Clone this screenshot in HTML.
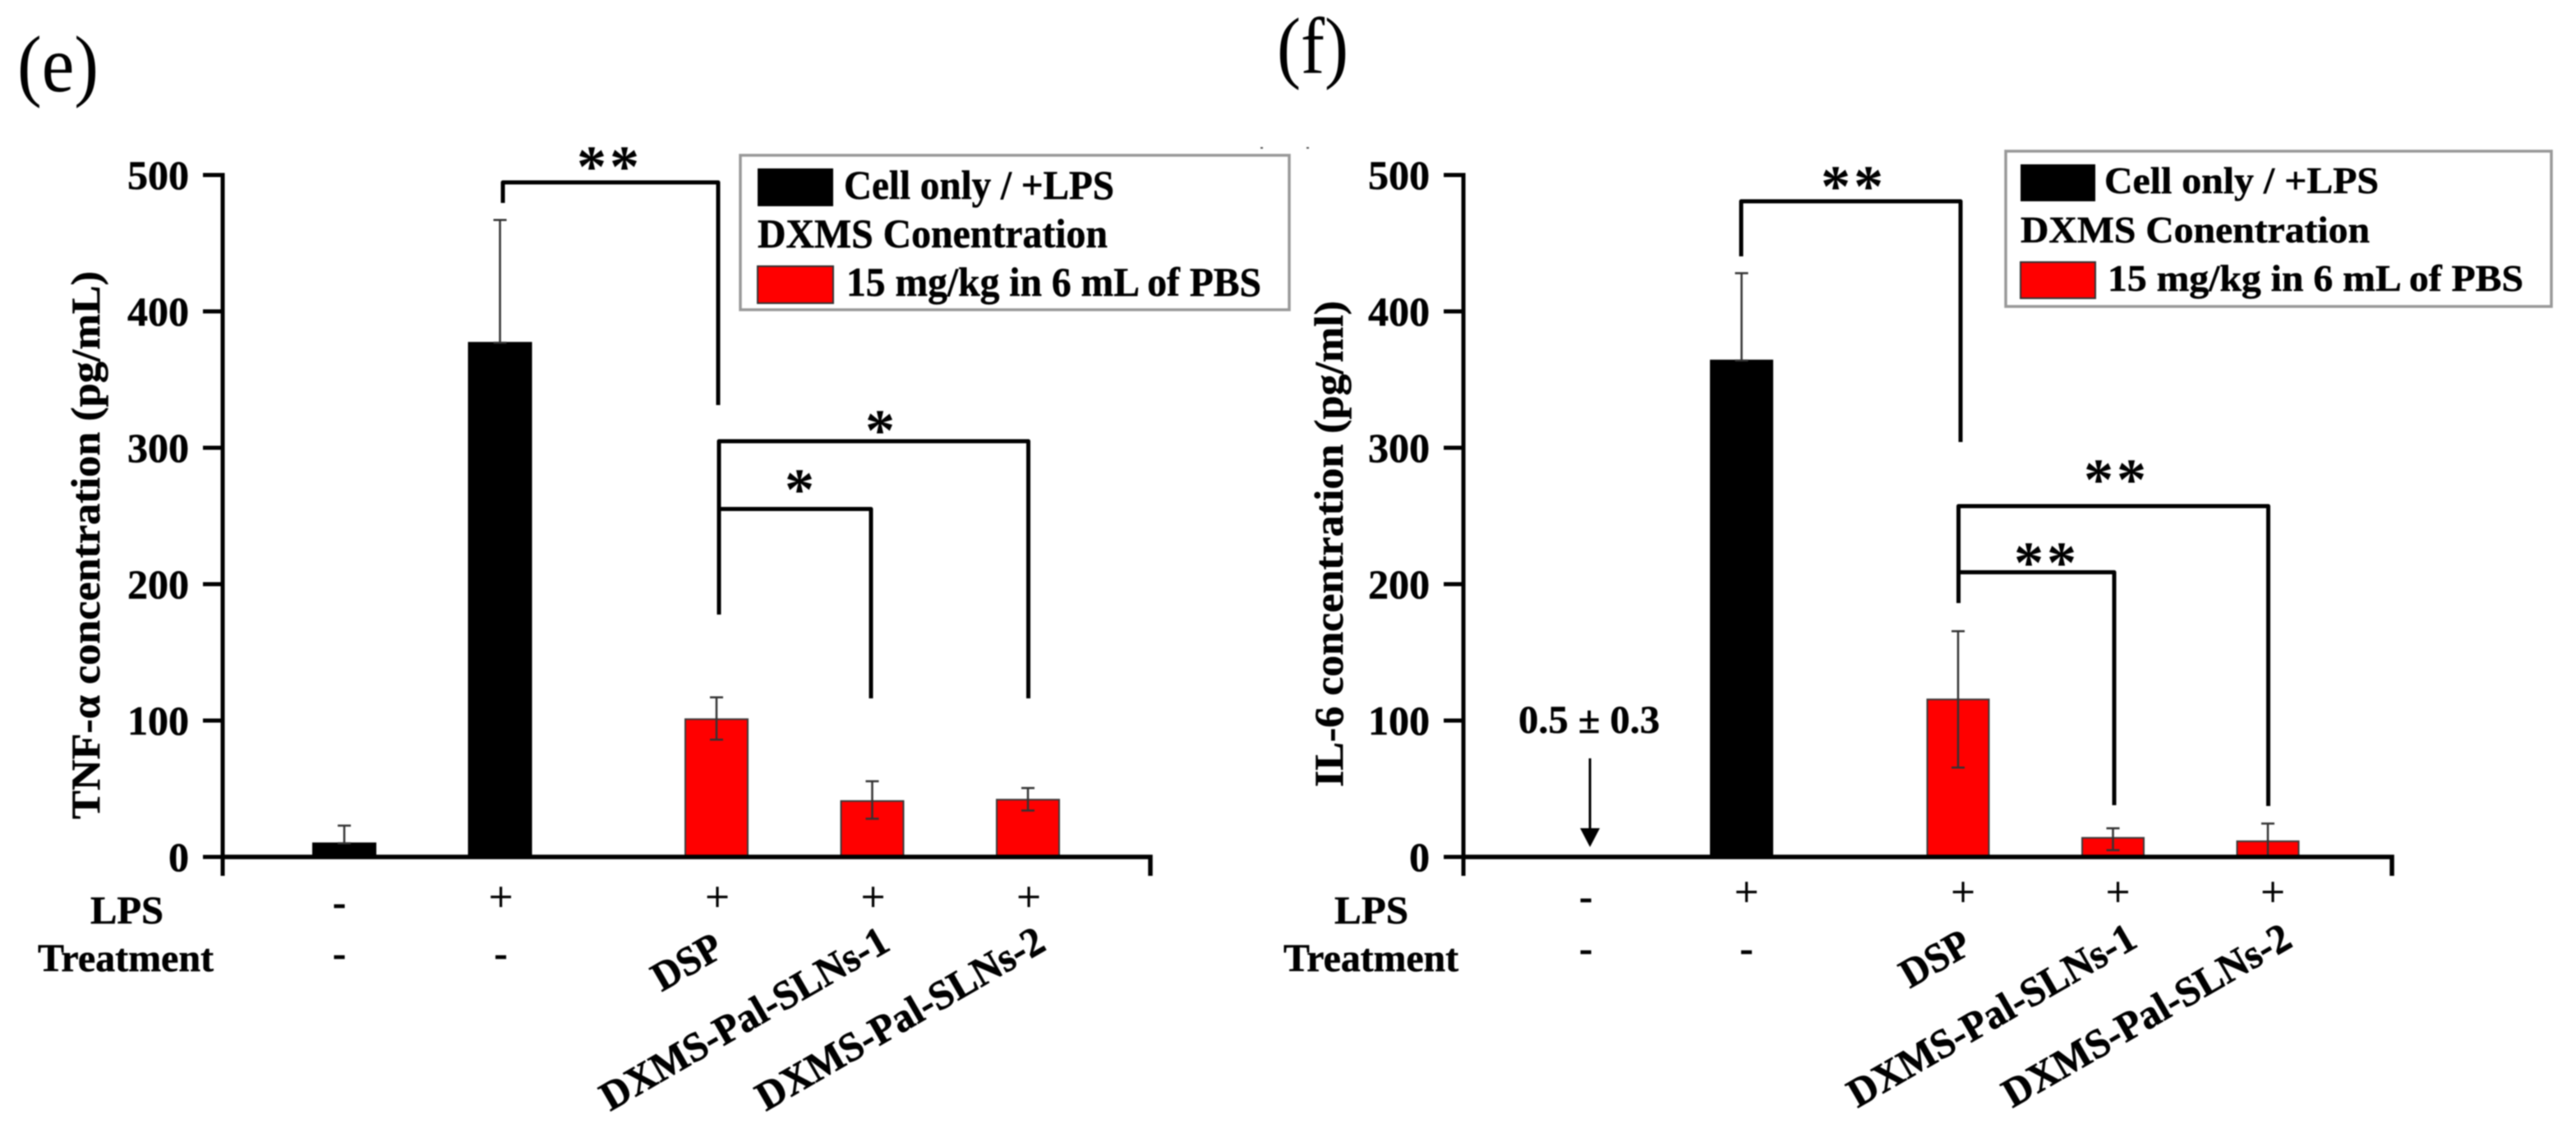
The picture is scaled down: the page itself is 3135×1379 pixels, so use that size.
<!DOCTYPE html>
<html lang="en">
<head>
<meta charset="utf-8">
<title>TNF-α and IL-6 concentration charts</title>
<style>
  html, body { margin: 0; padding: 0; background: #fff; }
  #figure { display: block; width: 3135px; height: 1379px; filter: blur(0.9px); }
  text { font-family: "Liberation Serif", "DejaVu Serif", serif; fill: #000; }
  .b { font-weight: bold; stroke: #000; stroke-width: 0.5px; }
  .lbl { font-size: 48px; font-weight: bold; stroke: #000; stroke-width: 0.5px; }
  .star { font-size: 72px; font-weight: bold; letter-spacing: 4px; text-anchor: middle; }
  .panel { font-size: 97px; }
  .bracket { fill: none; stroke: #000; stroke-width: 5px; stroke-linejoin: round; }
  .legend-box { fill: #fff; stroke: #999; stroke-width: 3.5px; }
</style>
</head>
<body>
<svg id="figure" xmlns="http://www.w3.org/2000/svg" width="3135" height="1379" viewBox="0 0 3135 1379">
  <rect x="0" y="0" width="3135" height="1379" fill="#fff"/>

  <!-- Panel e static annotations -->
  <g>
    <text class="panel" x="21" y="111" textLength="99" lengthAdjust="spacingAndGlyphs">(e)</text>
    <text class="b" font-size="50" transform="translate(121 997) rotate(-90)" textLength="667" lengthAdjust="spacingAndGlyphs">TNF-α concentration (pg/mL)</text>
    <text class="lbl" x="110" y="1124" textLength="89" lengthAdjust="spacingAndGlyphs">LPS</text>
    <text class="lbl" x="46" y="1182" textLength="214" lengthAdjust="spacingAndGlyphs">Treatment</text>
    <path class="bracket" d="M612 247V222H874V493"/>
    <path class="bracket" d="M875 748V537H1251.5V850"/>
    <path class="bracket" d="M875 619.5H1060V850"/>
    <text class="star" x="742" y="227">**</text>
    <text class="star" x="1073" y="548">*</text>
    <text class="star" x="975" y="620">*</text>
    <g>
      <rect class="legend-box" x="901" y="189" width="668" height="188"/>
      <rect x="922" y="205" width="92" height="46" fill="#000"/>
      <text class="b" font-size="50" x="1027" y="242" textLength="329" lengthAdjust="spacingAndGlyphs">Cell only / +LPS</text>
      <text class="b" font-size="50" x="922" y="301" textLength="426" lengthAdjust="spacingAndGlyphs">DXMS Conentration</text>
      <rect x="922" y="324" width="92" height="45" fill="#f00" stroke="#333" stroke-width="2"/>
      <text class="b" font-size="50" x="1030" y="360" textLength="505" lengthAdjust="spacingAndGlyphs">15 mg/kg in 6 mL of PBS</text>
    </g>
    <rect x="1534" y="179" width="3" height="2" fill="#555"/>
    <rect x="1590" y="179" width="3" height="2" fill="#555"/>
  </g>

  <!-- Panel f static annotations -->
  <g>
    <text class="panel" x="1554" y="89" textLength="87" lengthAdjust="spacingAndGlyphs">(f)</text>
    <text class="b" font-size="50" transform="translate(1634 958) rotate(-90)" textLength="592" lengthAdjust="spacingAndGlyphs">IL-6 concentration (pg/ml)</text>
    <text class="lbl" x="1624" y="1124" textLength="90" lengthAdjust="spacingAndGlyphs">LPS</text>
    <text class="lbl" x="1562" y="1182" textLength="213" lengthAdjust="spacingAndGlyphs">Treatment</text>
    <path class="bracket" d="M2119 312V245H2386V538"/>
    <path class="bracket" d="M2383.5 734V616H2760.5V981"/>
    <path class="bracket" d="M2383.5 696.5H2573V980"/>
    <text class="star" x="2256" y="251">**</text>
    <text class="star" x="2576" y="608">**</text>
    <text class="star" x="2491" y="709">**</text>
    <text class="lbl" x="1848" y="892" textLength="172" lengthAdjust="spacingAndGlyphs">0.5 ± 0.3</text>
    <line x1="1935" y1="923" x2="1935" y2="1010" stroke="#000" stroke-width="3"/>
    <polygon points="1923,1008 1947,1008 1935,1031" fill="#000"/>
    <g>
      <rect class="legend-box" x="2441" y="184" width="664" height="189"/>
      <rect x="2459" y="200" width="91" height="45" fill="#000"/>
      <text class="b" font-size="46" x="2561" y="235" textLength="334" lengthAdjust="spacingAndGlyphs">Cell only / +LPS</text>
      <text class="b" font-size="46" x="2459" y="295" textLength="425" lengthAdjust="spacingAndGlyphs">DXMS Conentration</text>
      <rect x="2459" y="319" width="91" height="44" fill="#f00" stroke="#333" stroke-width="2"/>
      <text class="b" font-size="46" x="2565" y="354" textLength="506" lengthAdjust="spacingAndGlyphs">15 mg/kg in 6 mL of PBS</text>
    </g>
  </g>

  <g id="chart-tnf"></g>
  <g id="chart-il6"></g>
</svg>

<script>
// Shared axis data
const yTickValues = [0, 100, 200, 300, 400, 500];
const lpsLabels = ['-', '+', '+', '+', '+'];
const treatmentLabels = ['-', '-', 'DSP', 'DXMS-Pal-SLNs-1', 'DXMS-Pal-SLNs-2'];
const barGroups = ['control', 'control', 'treated', 'treated', 'treated'];

// Panel (e) TNF-alpha
const tnfValues = [10, 377, 101, 41, 42];
const tnfErrorUp = [13, 90, 16, 14.5, 8.5];
const tnfErrorDown = [0, 0, 15, 13, 8];

// Panel (f) IL-6
const il6Values = [0.5, 364, 115.5, 14, 11.5];
const il6ErrorUp = [0, 64, 50, 7, 13];
const il6ErrorDown = [0, 0, 50, 9, 11.5];

const SVG_NS = 'http://www.w3.org/2000/svg';

function make(parent, tag, attrs, content) {
  const el = document.createElementNS(SVG_NS, tag);
  for (const k in attrs) el.setAttribute(k, attrs[k]);
  if (content !== undefined) el.textContent = content;
  parent.appendChild(el);
  return el;
}

function drawChart(root, prefix, geo, values, errUp, errDown) {
  const yScale = v => geo.y0 - v * geo.unit;
  const xScale = i => geo.x0 + geo.step * i + (barGroups[i] === 'treated' ? geo.groupGap : 0);
  const rowX = i => xScale(i) + (i === 0 ? geo.firstShift : geo.restShift);

  values.forEach((v, i) => {
    const cx = xScale(i);
    const top = yScale(v);
    const isTreated = barGroups[i] === 'treated';
    const bar = make(root, 'rect', {
      x: cx - geo.barWidth / 2, y: top, width: geo.barWidth, height: geo.y0 - top,
      fill: isTreated ? '#f00' : '#000', stroke: isTreated ? '#3a3a3a' : '#000', 'stroke-width': 2
    });
    
    

    const err = make(root, 'path', {
      d: 'M' + (cx - 8) + ' ' + yScale(v + errUp[i]) + 'h16M' + cx + ' ' + yScale(v + errUp[i]) +
         'V' + yScale(v - errDown[i]) + 'M' + (cx - 8) + ' ' + yScale(v - errDown[i]) + 'h16',
      fill: 'none', stroke: '#333', 'stroke-width': 2.5
    });
    
    
  });

  const yAxis = make(root, 'line', {
    x1: geo.axisX, y1: yScale(500) - 2.5, x2: geo.axisX, y2: geo.axisBottom, stroke: '#000', 'stroke-width': 5
  });
  
  

  const xAxis = make(root, 'path', {
    d: 'M' + geo.axisX + ' ' + geo.y0 + 'H' + geo.axisEnd + 'V' + geo.axisBottom,
    fill: 'none', stroke: '#000', 'stroke-width': 5.5
  });
  
  

  yTickValues.forEach(t => {
    const tick = make(root, 'line', {
      x1: geo.axisX - 24, y1: yScale(t), x2: geo.axisX, y2: yScale(t), stroke: '#000', 'stroke-width': 5
    });
    
    

    const lab = make(root, 'text', {
      x: geo.axisX - 41, y: yScale(t) + 17, 'text-anchor': 'end', 'font-size': 50, 'font-weight': 'bold',
      stroke: '#000', 'stroke-width': 0.5
    }, String(t));
    
    
  });

  lpsLabels.forEach((s, i) => {
    const isPlus = s === '+';
    const lab = make(root, 'text', {
      x: rowX(i), y: isPlus ? geo.plusY + 13 : geo.minusY + 10, 'text-anchor': 'middle',
      'font-size': isPlus ? 52 : 48, 'font-weight': isPlus ? 'normal' : 'bold',
      stroke: '#000', 'stroke-width': 0.6
    }, s);
    
    
  });

  treatmentLabels.forEach((s, i) => {
    let lab;
    if (s === '-') {
      lab = make(root, 'text', {
        x: rowX(i), y: geo.treatY + 10, 'text-anchor': 'middle', 'font-size': 48, 'font-weight': 'bold',
        stroke: '#000', 'stroke-width': 0.6
      }, s);
    } else {
      const isShort = s.length < 5;
      const inset = isShort ? geo.shortInset : 0;
      const ex = xScale(i) + geo.labelOffset - inset * Math.cos(Math.PI / 6);
      const ey = geo.labelEndY + inset * Math.sin(Math.PI / 6);
      lab = make(root, 'text', {
        'text-anchor': 'end', 'font-size': 50, 'font-weight': 'bold',
        stroke: '#000', 'stroke-width': 0.7,
        textLength: isShort ? 90 : 396, lengthAdjust: 'spacingAndGlyphs',
        transform: 'translate(' + ex + ' ' + ey + ') rotate(-30)'
      }, s);
    }
    
    
  });
}

drawChart(document.getElementById('chart-tnf'), 'tnf', {
  y0: 1043, unit: 1.66, x0: 419, step: 189.5, groupGap: 74, barWidth: 76,
  axisX: 271, axisEnd: 1400, axisBottom: 1066,
  firstShift: -6, restShift: 1, plusY: 1096, minusY: 1104, treatY: 1166,
  labelOffset: 24, labelEndY: 1155, shortInset: 15
}, tnfValues, tnfErrorUp, tnfErrorDown);

drawChart(document.getElementById('chart-il6'), 'il6', {
  y0: 1043, unit: 1.66, x0: 1931, step: 188.5, groupGap: 75, barWidth: 75,
  axisX: 1781, axisEnd: 2911, axisBottom: 1066,
  firstShift: -1, restShift: 6, plusY: 1090, minusY: 1097, treatY: 1160,
  labelOffset: 32, labelEndY: 1151, shortInset: 15
}, il6Values, il6ErrorUp, il6ErrorDown);
</script>
</body>
</html>
